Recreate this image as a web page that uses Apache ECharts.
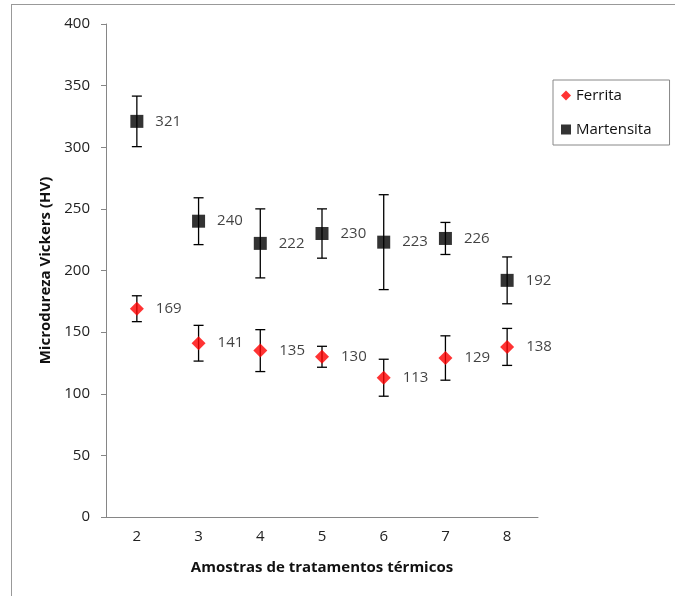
<!DOCTYPE html>
<html>
<head>
<meta charset="utf-8">
<script src="https://cdn.jsdelivr.net/npm/echarts@6/dist/echarts.min.js"></script>
<style>
  html, body { margin: 0; padding: 0; background: #fff; }
  #chart { width: 675px; height: 596px; }
</style>
</head>
<body>
<div id="chart"></div>
<script>
// amostras (eixo x)
const amostras = ['2', '3', '4', '5', '6', '7', '8']
// médias
const ferrita = [169, 141, 135, 130, 113, 129, 138]
const martensita = [321, 240, 222, 230, 223, 226, 192]
// desvios (barras de erro)
const ferritaErr = [10.5, 14.5, 17, 8.5, 15, 18, 15]
const martensitaErr = [20.5, 19, 28, 20, 38.5, 13, 19]

const font = "'Open Sans', 'Noto Sans', sans-serif"
const chart = echarts.init(document.getElementById('chart'))

function errorSeries(means, errs) {
  return {
    type: 'custom',
    z: 1,
    silent: true,
    data: means.map((m, i) => [i, m - errs[i], m + errs[i]]),
    renderItem(params, api) {
      const lo = api.coord([api.value(0), api.value(1)])
      const hi = api.coord([api.value(0), api.value(2)])
      const w = 5
      const style = { stroke: '#000', lineWidth: 1.3 }
      return {
        type: 'group',
        children: [
          { type: 'line', shape: { x1: lo[0], y1: lo[1], x2: hi[0], y2: hi[1] }, style },
          { type: 'line', shape: { x1: lo[0] - w, y1: lo[1], x2: lo[0] + w, y2: lo[1] }, style },
          { type: 'line', shape: { x1: hi[0] - w, y1: hi[1], x2: hi[0] + w, y2: hi[1] }, style }
        ]
      }
    }
  }
}

const pointLabel = {
  show: true, position: 'right', distance: 12,
  fontFamily: font, fontSize: 15, color: '#111'
}

chart.setOption({
  animation: false,
  textStyle: { fontFamily: font },
  grid: { left: 106, right: 137, top: 24, bottom: 79 },
  legend: {
    data: [
      { name: 'Ferrita', icon: 'diamond' },
      { name: 'Martensita', icon: 'rect' }
    ],
    orient: 'vertical',
    left: 553, top: 80,
    padding: [8, 18, 8, 8],
    itemWidth: 10, itemHeight: 10,
    itemGap: 19,
    borderColor: '#888', borderWidth: 1,
    textStyle: { fontFamily: font, fontSize: 15, color: '#111' }
  },
  xAxis: {
    type: 'category',
    data: amostras,
    name: 'Amostras de tratamentos térmicos',
    nameLocation: 'middle',
    nameGap: 43,
    nameTextStyle: { fontFamily: font, fontSize: 15, fontWeight: 'bold', color: '#111' },
    axisLine: { lineStyle: { color: '#868686' } },
    axisTick: { length: 5, lineStyle: { color: '#868686' } },
    axisLabel: { fontFamily: font, fontSize: 15, color: '#222', margin: 12 }
  },
  yAxis: {
    type: 'value',
    min: 0, max: 400, interval: 50,
    name: 'Microdureza Vickers (HV)',
    nameLocation: 'middle',
    nameGap: 53,
    nameTextStyle: { fontFamily: font, fontSize: 15, fontWeight: 'bold', color: '#111' },
    axisLine: { show: true, lineStyle: { color: '#868686' } },
    axisTick: { show: true, length: 5, lineStyle: { color: '#868686' } },
    axisLabel: { fontFamily: font, fontSize: 15, color: '#222', margin: 16 },
    splitLine: { show: false }
  },
  graphic: [
    { type: 'line', shape: { x1: 11, y1: 4.5, x2: 675, y2: 4.5 }, style: { stroke: '#999', lineWidth: 1 } },
    { type: 'line', shape: { x1: 11.5, y1: 4, x2: 11.5, y2: 596 }, style: { stroke: '#999', lineWidth: 1 } }
  ],
  series: [
    errorSeries(ferrita, ferritaErr),
    errorSeries(martensita, martensitaErr),
    {
      name: 'Ferrita', type: 'scatter', z: 3,
      symbol: 'diamond', symbolSize: 14,
      itemStyle: { color: '#ff0000' },
      label: pointLabel,
      data: ferrita
    },
    {
      name: 'Martensita', type: 'scatter', z: 3,
      symbol: 'rect', symbolSize: 13,
      itemStyle: { color: '#000' },
      label: pointLabel,
      data: martensita
    }
  ]
})
</script>
</body>
</html>
